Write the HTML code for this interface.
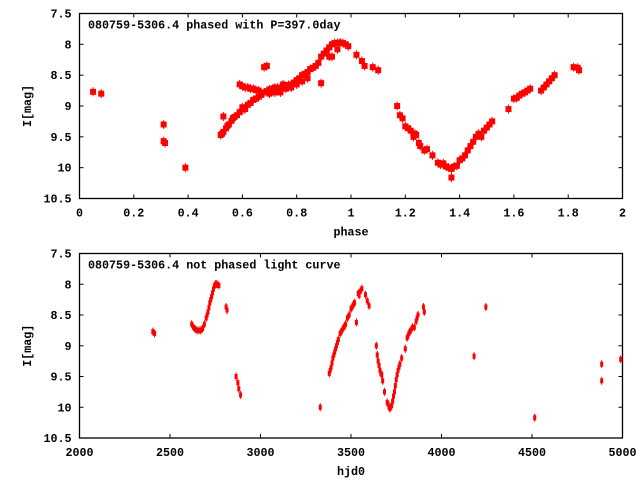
<!DOCTYPE html>
<html><head><meta charset="utf-8"><style>
html,body{margin:0;padding:0;background:#fff;}
svg text{font-family:"Liberation Mono",monospace;font-weight:bold;font-size:11.7px;fill:#000;}
</style></head><body>
<svg id="c" width="640" height="480" xmlns="http://www.w3.org/2000/svg"></svg>
<script>
const phaseX=[0.05,0.08,0.31,0.31,0.315,0.39,
0.52,0.525,0.53,0.54,0.545,0.55,0.56,0.565,0.57,0.58,0.59,0.6,0.605,0.61,0.62,0.63,0.64,0.65,0.53,
0.59,0.6,0.61,0.62,0.63,0.64,0.65,0.66,0.67,0.68,0.69,0.7,0.71,0.72,0.73,0.74,0.75,0.76,0.77,0.78,0.79,0.8,0.81,0.82,0.83,0.84,0.85,0.86,0.87,0.88,0.89,0.9,0.91,0.92,0.93,0.94,0.95,0.96,0.97,0.98,0.99,
0.66,0.67,0.7,0.72,0.74,0.76,0.78,0.8,0.82,0.84,0.68,0.69,0.92,0.93,0.95,0.89,
1.02,1.04,1.05,1.08,1.1,
1.17,1.18,1.19,1.2,1.21,1.22,1.23,1.235,1.24,1.25,1.255,1.27,1.28,1.3,
1.32,1.33,1.34,1.35,1.36,1.37,1.38,1.37,1.39,1.4,1.41,1.42,1.43,1.44,1.45,1.46,1.47,1.48,1.49,1.5,1.51,1.52,
1.58,1.6,1.61,1.62,1.63,1.64,1.65,1.66,1.7,1.71,1.72,1.73,1.74,1.75,1.82,1.84,1.835];
const phaseMag=[8.77,8.8,9.3,9.57,9.6,10.0,
9.47,9.45,9.42,9.36,9.32,9.3,9.24,9.2,9.18,9.15,9.1,9.02,9.05,9.05,8.98,8.95,8.9,8.88,9.17,
8.65,8.68,8.7,8.7,8.72,8.72,8.74,8.75,8.8,8.78,8.76,8.73,8.72,8.7,8.7,8.7,8.65,8.68,8.66,8.65,8.62,8.58,8.55,8.5,8.48,8.45,8.4,8.38,8.35,8.3,8.2,8.15,8.1,8.05,8.0,7.98,7.98,7.97,7.98,8.0,8.03,
8.85,8.82,8.8,8.78,8.78,8.72,8.7,8.65,8.6,8.55,8.37,8.35,8.2,8.2,8.08,8.63,
8.17,8.27,8.35,8.37,8.42,
9.0,9.15,9.2,9.33,9.36,9.4,9.5,9.45,9.47,9.6,9.65,9.72,9.7,9.8,
9.92,9.95,9.93,9.98,10.0,10.02,9.98,10.16,9.97,9.88,9.85,9.8,9.72,9.65,9.58,9.5,9.45,9.5,9.4,9.35,9.3,9.25,
9.05,8.88,8.87,8.83,8.8,8.78,8.75,8.72,8.75,8.7,8.65,8.6,8.55,8.5,8.37,8.42,8.38];
const hjdX=[2405,2415,
2620,2630,2640,2650,2660,2670,2680,2690,2700,2705,2710,2715,2720,2725,2730,2735,2740,2745,2750,2755,2760,2770,
2810,2815,2865,2875,2880,2890,3330,
3380,3385,3390,3395,3400,3405,3410,3415,3420,3425,3430,3440,3445,3450,3460,3465,3470,3480,3490,3500,3505,3510,3515,3520,3530,3540,3545,3550,3560,3580,3590,3600,
3640,3645,3650,3655,3660,3665,3670,3675,3685,3700,3705,3710,3715,3720,3725,3730,3735,3740,3745,3750,3755,3760,3765,3770,3780,3800,3810,3815,3820,3825,3830,3840,3850,3860,3865,3870,3900,3905,
4180,4245,4515,4885,4885,4990];
const hjdMag=[8.77,8.8,
8.65,8.7,8.73,8.75,8.75,8.75,8.72,8.65,8.55,8.5,8.45,8.38,8.3,8.25,8.2,8.14,8.08,8.03,8.0,8.0,8.0,8.02,
8.37,8.42,9.5,9.6,9.7,9.8,10.0,
9.45,9.4,9.35,9.28,9.2,9.15,9.1,9.05,9.0,8.95,8.9,8.8,8.78,8.75,8.7,8.68,8.65,8.55,8.5,8.4,8.38,8.35,8.32,8.3,8.62,8.15,8.18,8.12,8.07,8.17,8.27,8.35,
9.0,9.15,9.25,9.32,9.4,9.45,9.47,9.57,9.75,9.92,9.95,10.0,10.02,10.0,9.97,9.9,9.82,9.75,9.65,9.55,9.47,9.4,9.35,9.3,9.2,9.05,8.87,8.84,8.8,8.77,8.75,8.7,8.7,8.6,8.55,8.5,8.37,8.45,
9.17,8.37,10.17,9.3,9.57,9.22];
const phaseTicks=["0","0.2","0.4","0.6","0.8","1","1.2","1.4","1.6","1.8","2"];
const hjdTicks=["2000","2500","3000","3500","4000","4500","5000"];
const magTicks=["7.5","8","8.5","9","9.5","10","10.5"];

const NS="http://www.w3.org/2000/svg";
const svg=document.getElementById('c');
function mk(t,a,p){const e=document.createElementNS(NS,t);for(const k in a)e.setAttribute(k,a[k]);(p||svg).appendChild(e);return e;}
const L=79.5,R=622.5;
function panel(top,bot,xmin,xmax,xt,xs,ys,title,xlabel,pname,big){
  const g=mk('g',{});
  
  
  const sx=v=>L+(v-xmin)/(xmax-xmin)*(R-L);
  const sy=v=>top+(v-7.5)/3*(bot-top);
  mk('rect',{x:L,y:top,width:R-L,height:bot-top,fill:'none',stroke:'#000','stroke-width':1.3},g);
  magTicks.forEach(t=>{const y=sy(parseFloat(t));
    mk('line',{x1:L,y1:y,x2:L+4,y2:y,stroke:'#000'},g);mk('line',{x1:R,y1:y,x2:R-4,y2:y,stroke:'#000'},g);
    const tx=mk('text',{x:L-8,y:y+4,'text-anchor':'end'},g);tx.textContent=t;
    
    });
  xt.forEach(t=>{const x=sx(parseFloat(t));
    mk('line',{x1:x,y1:bot,x2:x,y2:bot-4,stroke:'#000'},g);mk('line',{x1:x,y1:top,x2:x,y2:top+4,stroke:'#000'},g);
    const tx=mk('text',{x:x,y:bot+18,'text-anchor':'middle'},g);tx.textContent=t;
    
    });
  const ti=mk('text',{x:88,y:top+15},g);ti.textContent=title;
  
  
  const xl=mk('text',{x:(L+R)/2,y:bot+37,'text-anchor':'middle'},g);xl.textContent=xlabel;
  
  
  const cy=(top+bot)/2;
  const yl=mk('text',{x:31,y:cy,'text-anchor':'middle',transform:`rotate(-90 31 ${cy})`},g);yl.textContent='I[mag]';
  
  
  const pg=mk('g',{fill:'#f00'},g);
  
  
  xs.forEach((v,i)=>{const x=sx(v),y=sy(ys[i]);
    const w=big?6:3,h=big?6:5;
    const r=mk('rect',{x:x-w/2,y:y-h/2,width:w,height:h},pg);
    
    
    mk('rect',{x:x-0.5,y:y-h/2-1.5,width:1,height:h+3},pg);});
}
panel(13.5,198.5,0,2,phaseTicks,phaseX,phaseMag,'080759-5306.4 phased with P=397.0day','phase','phased-panel',true);
panel(253.5,438,2000,5000,hjdTicks,hjdX,hjdMag,'080759-5306.4 not phased light curve','hjd0','unphased-panel',false);
</script>
</body></html>
